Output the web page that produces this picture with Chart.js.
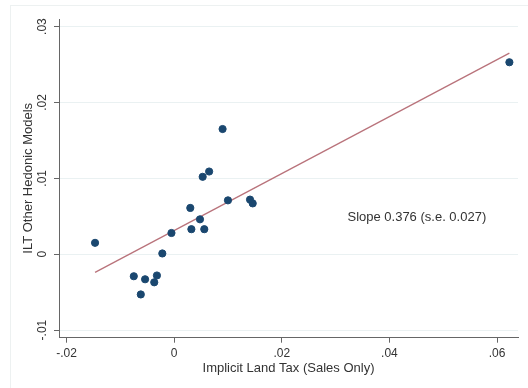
<!DOCTYPE html>
<html>
<head>
<meta charset="utf-8">
<script src="https://cdn.jsdelivr.net/npm/chart.js@4"></script>
<style>
  html, body { margin: 0; padding: 0; background: #fff; }
  #wrap { width: 528px; height: 388px; position: relative; }
</style>
</head>
<body>
<div id="wrap"><canvas id="chart"></canvas></div>
<script>
// Scatter data
var landTax = [-0.0147, -0.0075, -0.0054, -0.0062, -0.0037, -0.0032, -0.0022, -0.0005, 0.0030, 0.0032,
               0.0048, 0.0053, 0.0056, 0.0065, 0.0090, 0.0100, 0.0141, 0.0146, 0.0623];
var otherHedonic = [0.0015, -0.0029, -0.0033, -0.0053, -0.0037, -0.0028, 0.0001, 0.0028, 0.0061, 0.0033,
                    0.0046, 0.0102, 0.0033, 0.0109, 0.0165, 0.0071, 0.0072, 0.0067, 0.0253];

// Fitted line end points
var fitX = [-0.0147, 0.0623];
var fitY = [-0.0024, 0.0265];

// Axis ticks
var xTicks = [-0.02, 0, 0.02, 0.04, 0.06];
var xTickLabels = ['-.02', '0', '.02', '.04', '.06'];
var yTicks = [-0.01, 0, 0.01, 0.02, 0.03];
var yTickLabels = ['-.01', '0', '.01', '.02', '.03'];

var slopeNote = 'Slope 0.376 (s.e. 0.027)';

var textColor = '#333';
var axisColor = '#666';
var fontFamily = '"Liberation Sans", Arial, Helvetica, sans-serif';

// Draws the faint outer frame and the slope note
var extrasPlugin = {
    id: 'extras',
    beforeDraw: function (chart) {
        var c = chart.ctx;
        c.save();
        c.strokeStyle = '#edf1f1';
        c.lineWidth = 1;
        c.strokeRect(10.5, 5.5, 530, 390);
        c.restore();
    },
    afterDraw: function (chart) {
        var c = chart.ctx;
        var px = chart.scales.x.getPixelForValue(0.0451);
        var py = chart.scales.y.getPixelForValue(0.0049);
        c.save();
        c.font = '13px ' + fontFamily;
        c.fillStyle = textColor;
        c.textAlign = 'center';
        c.textBaseline = 'middle';
        c.fillText(slopeNote, px, py);
        c.restore();
    }
};

var points = landTax.map(function (x, i) { return { x: x, y: otherHedonic[i] }; });
var fitLine = fitX.map(function (x, i) { return { x: x, y: fitY[i] }; });

var ctx = document.getElementById('chart').getContext('2d');
var chart = new Chart(ctx, {
    type: 'scatter',
    data: {
        datasets: [{
            data: points,
            backgroundColor: '#1a476f',
            borderColor: '#1a476f',
            pointRadius: 3.6,
            pointHoverRadius: 3.6
        }, {
            type: 'line',
            data: fitLine,
            borderColor: '#b9737b',
            borderWidth: 1.3,
            pointRadius: 0,
            fill: false
        }]
    },
    plugins: [extrasPlugin],
    options: {
        responsive: true,
        maintainAspectRatio: false,
        animation: false,
        layout: { padding: { left: 0, top: 19, right: 10, bottom: 12 } },
        plugins: {
            legend: { display: false },
            tooltip: { enabled: false }
        },
        scales: {
            x: {
                type: 'linear',
                min: -0.0214,
                max: 0.0639,
                afterBuildTicks: function (scale) {
                    scale.ticks = xTicks.map(function (v) { return { value: v }; });
                },
                afterFit: function (scale) { scale.height = 38.3; },
                ticks: {
                    autoSkip: false,
                    maxRotation: 0,
                    padding: 4,
                    color: textColor,
                    font: { family: fontFamily, size: 12 },
                    callback: function (value, index) { return xTickLabels[index]; }
                },
                grid: { drawOnChartArea: false, drawTicks: true, tickLength: 5, tickColor: axisColor },
                border: { display: true, color: axisColor, width: 1 },
                title: {
                    display: true,
                    text: 'Implicit Land Tax (Sales Only)',
                    color: textColor,
                    font: { family: fontFamily, size: 13 },
                    padding: { top: 0, bottom: 0 }
                }
            },
            y: {
                type: 'linear',
                min: -0.011,
                max: 0.031,
                afterBuildTicks: function (scale) {
                    scale.ticks = yTicks.map(function (v) { return { value: v }; });
                },
                afterFit: function (scale) { scale.width = 59; },
                ticks: {
                    autoSkip: false,
                    minRotation: 90,
                    maxRotation: 90,
                    crossAlign: 'center',
                    padding: 1,
                    color: textColor,
                    font: { family: fontFamily, size: 12 },
                    callback: function (value, index) { return yTickLabels[index]; }
                },
                grid: { color: '#eaf1f2', lineWidth: 1, drawTicks: true, tickLength: 5, tickColor: axisColor },
                border: { display: true, color: axisColor, width: 1 },
                title: {
                    display: true,
                    text: 'ILT Other Hedonic Models',
                    color: textColor,
                    font: { family: fontFamily, size: 13 },
                    padding: { top: 21, bottom: 0 }
                }
            }
        }
    }
});
</script>
</body>
</html>
